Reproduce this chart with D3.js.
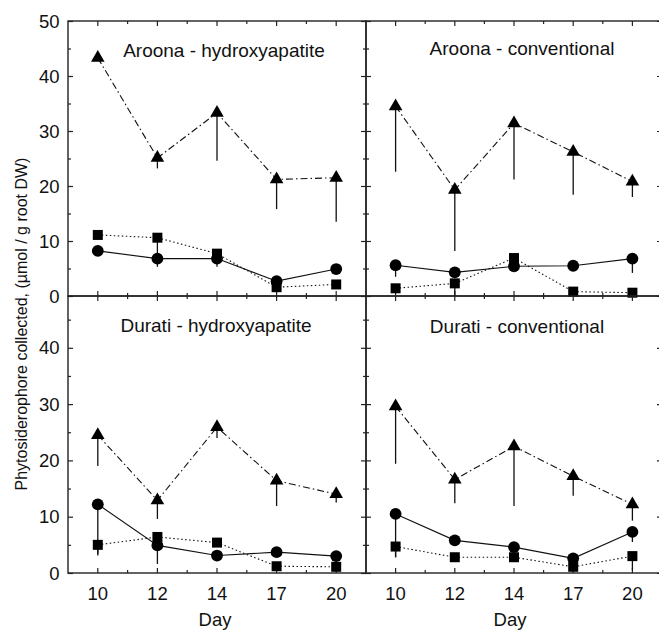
<!DOCTYPE html>
<meta charset="utf-8">
<style>
  body { margin: 0; background: #fff; }
  text { font-family: "Liberation Sans", Arial, sans-serif; fill: #111; }
  .frame { stroke: #222; stroke-width: 1.4; fill: none; }
  .tick line { stroke: #222; stroke-width: 1.2; }
  path.line { fill: none; stroke: #111; stroke-width: 1.1; }
  path.line.tri { stroke-dasharray: 7,3,1.5,3; }
  path.line.sq { stroke-dasharray: 1.5,2.5; }
  line.err { stroke: #111; stroke-width: 1.3; }
</style>
<body>
<script src="https://d3js.org/d3.v7.min.js"></script>
<script>

  // ---- data ----
  var days = ["10", "12", "14", "17", "20"];
  var titles = ["Aroona - hydroxyapatite", "Aroona - conventional",
                "Durati - hydroxyapatite", "Durati - conventional"];

  // triangles (mean, lower end of error bar)
  var triMean = [[43.3, 25.1, 33.3, 21.2, 21.5],
                 [34.5, 19.3, 31.4, 26.2, 20.8],
                 [24.5, 12.9, 25.9, 16.4, 14.0],
                 [29.6, 16.6, 22.5, 17.2, 12.2]];
  var triLow  = [[43.3, 23.2, 24.6, 15.8, 13.5],
                 [22.6, 8.2, 21.2, 18.4, 18.0],
                 [19.0, 9.6, 24.0, 11.9, 12.5],
                 [19.4, 12.4, 11.9, 13.7, 9.3]];
  // circles
  var cirMean = [[8.2, 6.8, 6.8, 2.7, 4.9],
                 [5.6, 4.3, 5.4, 5.5, 6.8],
                 [12.2, 4.9, 3.1, 3.7, 3.0],
                 [10.5, 5.8, 4.6, 2.6, 7.3]];
  var cirLow  = [[8.2, 5.3, 5.3, 2.7, 4.9],
                 [3.5, 4.3, 5.4, 5.5, 4.2],
                 [3.4, 1.6, 3.1, 3.7, 3.0],
                 [2.8, 5.8, 4.6, 2.6, 5.5]];
  // squares
  var sqMean  = [[11.1, 10.6, 7.7, 1.6, 2.1],
                 [1.4, 2.3, 6.9, 0.8, 0.6],
                 [5.0, 6.4, 5.4, 1.2, 1.1],
                 [4.7, 2.8, 2.8, 1.1, 3.0]];
  var sqLow   = [[11.1, 7.8, 7.7, 1.6, 2.1],
                 [1.4, 0.0, 6.9, 0.8, 0.6],
                 [3.1, 6.4, 5.4, 1.2, 1.1],
                 [2.8, 2.8, 2.8, 1.1, 0.5]];

  var yMajor = [0, 10, 20, 30, 40, 50];
  var yMinor = [5, 15, 25, 35, 45];

  // ---- layout ----
  var W = 659, H = 631;
  var colX = [[68, 366], [366, 662]];
  var rowY = [{range: [296, 21], top: 50}, {range: [573, 296], top: 49.2}];
  var titlePos = [[224, 56.5], [522, 54.5], [216, 331.5], [517, 332.5]];
  var dayX = [215, 510];

  var svg = d3.select("body").append("svg")
      .attr("width", W)
      .attr("height", H);

  var series = [
    {cls: "tri", mean: triMean, low: triLow, sym: d3.symbolTriangle, size: 80},
    {cls: "sq",  mean: sqMean,  low: sqLow,  sym: d3.symbolSquare,   size: 100},
    {cls: "cir", mean: cirMean, low: cirLow, sym: d3.symbolCircle,   size: 110}
  ];

  titles.forEach(function(title, p) {
    var col = p % 2, row = Math.floor(p / 2);
    var x0 = colX[col][0], x1 = colX[col][1];
    var yr = rowY[row];

    var x = d3.scalePoint().domain(days).range([x0, x1]).padding(0.5);
    var y = d3.scaleLinear().domain([0, yr.top]).range(yr.range);
    var yTop = yr.range[1], yBot = yr.range[0];

    var g = svg.append("g").attr("class", "panel");

    // frame
    g.append("rect").attr("class", "frame")
        .attr("x", x0).attr("y", yTop)
        .attr("width", x1 - x0).attr("height", yBot - yTop);

    // y ticks, inward on both sides
    var yMaj = yMajor.filter(function(v) { return v <= yr.top; });
    var ax;
    ax = g.append("g").attr("transform", "translate(" + x0 + ",0)")
        .call(d3.axisLeft(y).tickValues(yMaj).tickSize(-5).tickFormat(""));
    ax.select(".domain").remove();
    ax = g.append("g").attr("transform", "translate(" + x0 + ",0)")
        .call(d3.axisLeft(y).tickValues(yMinor).tickSize(-3).tickFormat(""));
    ax.select(".domain").remove();
    ax = g.append("g").attr("transform", "translate(" + x1 + ",0)")
        .call(d3.axisRight(y).tickValues(yMaj).tickSize(-5).tickFormat(""));
    ax.select(".domain").remove();
    ax = g.append("g").attr("transform", "translate(" + x1 + ",0)")
        .call(d3.axisRight(y).tickValues(yMinor).tickSize(-3).tickFormat(""));
    ax.select(".domain").remove();

    // x ticks, inward top and bottom; minor ticks between days
    var mids = days.slice(1).map(function(d, i) {
      return (x(days[i]) + x(d)) / 2;
    });
    var xTickG = g.append("g");
    [[yTop, 1], [yBot, -1]].forEach(function(e) {
      xTickG.selectAll(null).data(days).enter().append("line")
          .attr("x1", function(d) { return x(d); })
          .attr("x2", function(d) { return x(d); })
          .attr("y1", e[0]).attr("y2", e[0] + 5 * e[1])
          .attr("stroke", "#222").attr("stroke-width", 1.2);
      xTickG.selectAll(null).data(mids).enter().append("line")
          .attr("x1", function(d) { return d; })
          .attr("x2", function(d) { return d; })
          .attr("y1", e[0]).attr("y2", e[0] + 3 * e[1])
          .attr("stroke", "#222").attr("stroke-width", 1.2);
    });

    // tick labels
    if (col === 0) {
      g.selectAll(null).data(yMaj).enter().append("text")
          .attr("x", x0 - 8.5)
          .attr("y", function(d) { return y(d); })
          .attr("dy", "0.36em")
          .attr("text-anchor", "end")
          .style("font-size", "18.5px")
          .text(function(d) { return d; });
    }
    if (row === 1) {
      g.selectAll(null).data(days).enter().append("text")
          .attr("x", function(d) { return x(d); })
          .attr("y", 600)
          .attr("text-anchor", "middle")
          .style("font-size", "18.5px")
          .text(function(d) { return d; });
      g.append("text")
          .attr("x", dayX[col])
          .attr("y", 626)
          .attr("text-anchor", "middle")
          .style("font-size", "18.5px")
          .text("Day");
    }

    // panel title
    g.append("text")
        .attr("x", titlePos[p][0])
        .attr("y", titlePos[p][1])
        .attr("text-anchor", "middle")
        .style("font-size", "19px")
        .text(title);

    // series
    series.forEach(function(s) {
      var pts = days.map(function(d, i) {
        return {d: d, v: s.mean[p][i], lo: s.low[p][i]};
      });
      g.selectAll(null).data(pts).enter().append("line")
          .attr("class", "err")
          .attr("x1", function(d) { return x(d.d); })
          .attr("x2", function(d) { return x(d.d); })
          .attr("y1", function(d) { return y(d.v); })
          .attr("y2", function(d) { return y(d.lo); });
      g.append("path")
          .datum(pts)
          .attr("class", "line " + s.cls)
          .attr("d", d3.line()
              .x(function(d) { return x(d.d); })
              .y(function(d) { return y(d.v); }));
    });
    series.forEach(function(s) {
      var pts = days.map(function(d, i) { return {d: d, v: s.mean[p][i]}; });
      g.selectAll(null).data(pts).enter().append("path")
          .attr("transform", function(d) {
            return "translate(" + x(d.d) + "," + y(d.v) + ")";
          })
          .attr("d", d3.symbol().type(s.sym).size(s.size))
          .attr("fill", "#000");
    });
  });

  // y axis title
  svg.append("text")
      .attr("transform", "translate(27,324) rotate(-90)")
      .attr("text-anchor", "middle")
      .style("font-size", "16px")
      .text("Phytosiderophore collected, (\u00b5mol / g root DW)");

</script>
</body>
